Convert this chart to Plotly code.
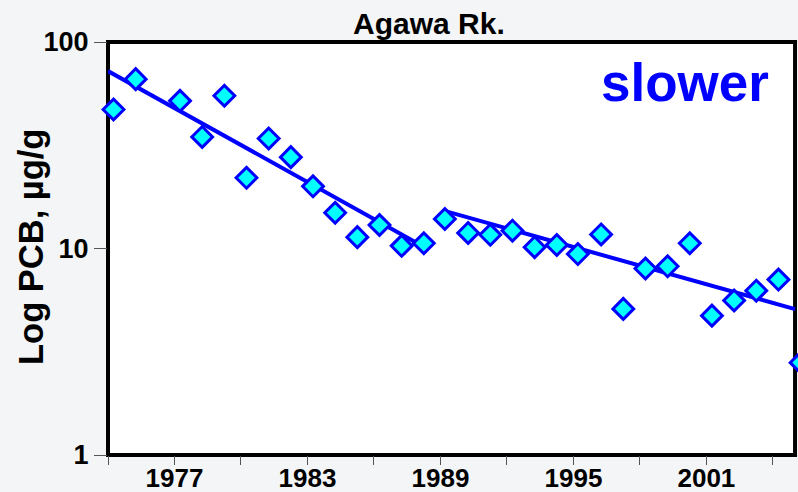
import plotly.graph_objects as go

# ---- data ----
sample_time = [1974.25, 1975.25, 1977.25, 1978.25, 1979.25, 1980.25, 1981.25, 1982.25,
               1983.25, 1984.25, 1985.25, 1986.25, 1987.25, 1988.25, 1989.2, 1990.25,
               1991.25, 1992.25, 1993.25, 1994.25, 1995.2, 1996.25, 1997.25, 1998.25,
               1999.25, 2000.25, 2001.25, 2002.25, 2003.25, 2004.25, 2005.25]
pcb = [47.1, 66.1, 51.9, 34.7, 54.9, 22.0, 34.1, 27.7,
       20.0, 14.9, 11.35, 13.0, 10.3, 10.6, 13.9, 11.9,
       11.65, 12.2, 10.15, 10.4, 9.4, 11.7, 5.1, 8.0,
       8.2, 10.6, 4.73, 5.6, 6.25, 7.07, 2.8]

fit1_x = [1974.0, 1987.9]
fit1_y = [72.3, 10.7]
fit2_x = [1989.1, 2005.0]
fit2_y = [15.3, 5.09]

x_tickvals = [1974, 1977, 1980, 1983, 1986, 1989, 1992, 1995, 1998, 2001, 2004]
x_ticktext = ["", "1977", "", "1983", "", "1989", "", "1995", "", "2001", ""]
y_tickvals = [1, 10, 100]
y_ticktext = ["1", "10", "100"]

x_start, x_frame_end = 1974, 2005   # framed part of the time axis
x_axis_end = 2005.9                  # axis runs on past the frame (last point half visible)

title_text = "Agawa Rk."
y_title = "Log PCB, µg/g"
note_text = "slower"

FONT = "Liberation Sans, Arial, sans-serif"
H = 492
L, R, T, B = 108, 1, 42, 37
pw = 707
W = L + pw + R
ph = H - T - B

fig = go.Figure()
fig.add_trace(go.Scatter(x=fit1_x, y=fit1_y, mode="lines",
                         line=dict(color="#0000FF", width=4), cliponaxis=False,
                         showlegend=False, hoverinfo="skip"))
fig.add_trace(go.Scatter(x=fit2_x, y=fit2_y, mode="lines",
                         line=dict(color="#0000FF", width=4), cliponaxis=False,
                         showlegend=False, hoverinfo="skip"))
fig.add_trace(go.Scatter(x=sample_time, y=pcb, mode="markers",
                         marker=dict(symbol="diamond", size=16, color="#00FFFF",
                                     line=dict(color="#0000FF", width=3)),
                         cliponaxis=False, showlegend=False))

def px_x(p):
    return (p - L) / pw

def px_y(p):
    return (H - B - p) / ph

frame_right = (x_frame_end - x_start) / (x_axis_end - x_start)

fig.update_layout(
    width=W, height=H,
    margin=dict(l=L, r=R, t=T, b=B, autoexpand=False),
    paper_bgcolor="#f4f5f7",
    plot_bgcolor="#ffffff",
    font=dict(family=FONT, color="black"),
    xaxis=dict(range=[x_start, x_axis_end], tickmode="array", tickvals=x_tickvals,
               ticktext=x_ticktext, ticks="outside", ticklen=9, tickwidth=1,
               tickcolor="#555555", showline=False, showgrid=False, zeroline=False,
               layer="below traces", automargin=False, ticklabelstandoff=-9,
               tickfont=dict(family=FONT, size=26, color="black", weight="bold")),
    yaxis=dict(type="log", range=[0, 2], tickmode="array", tickvals=y_tickvals,
               ticktext=y_ticktext, ticks="outside", ticklen=13, tickwidth=1,
               tickcolor="#555555", showline=False, showgrid=False, zeroline=False,
               layer="below traces", automargin=False,
               tickfont=dict(family=FONT, size=27, color="black", weight="bold")),
    shapes=[
        dict(type="rect", xref="paper", yref="paper", x0=0, x1=frame_right, y0=0, y1=1,
             line=dict(color="black", width=4), fillcolor="rgba(0,0,0,0)", layer="below"),
    ],
    annotations=[
        dict(text="<b>" + title_text + "</b>", xref="paper", yref="paper",
             x=px_x(429), y=px_y(24), xanchor="center", yanchor="middle",
             showarrow=False, font=dict(family=FONT, size=30, color="black")),
        dict(text="<b>" + y_title + "</b>", xref="paper", yref="paper",
             x=px_x(31), y=px_y(247), xanchor="center", yanchor="middle",
             textangle=-90, showarrow=False,
             font=dict(family=FONT, size=34.5, color="black")),
        dict(text="<b>" + note_text + "</b>", xref="paper", yref="paper",
             x=px_x(771), y=px_y(82), xanchor="right", yanchor="middle",
             showarrow=False, font=dict(family=FONT, size=53, color="#0000FF")),
    ],
)

fig.write_html("out.html", config={"displayModeBar": False},
               post_script="document.body.style.margin='0px';document.body.style.overflow='hidden';")
